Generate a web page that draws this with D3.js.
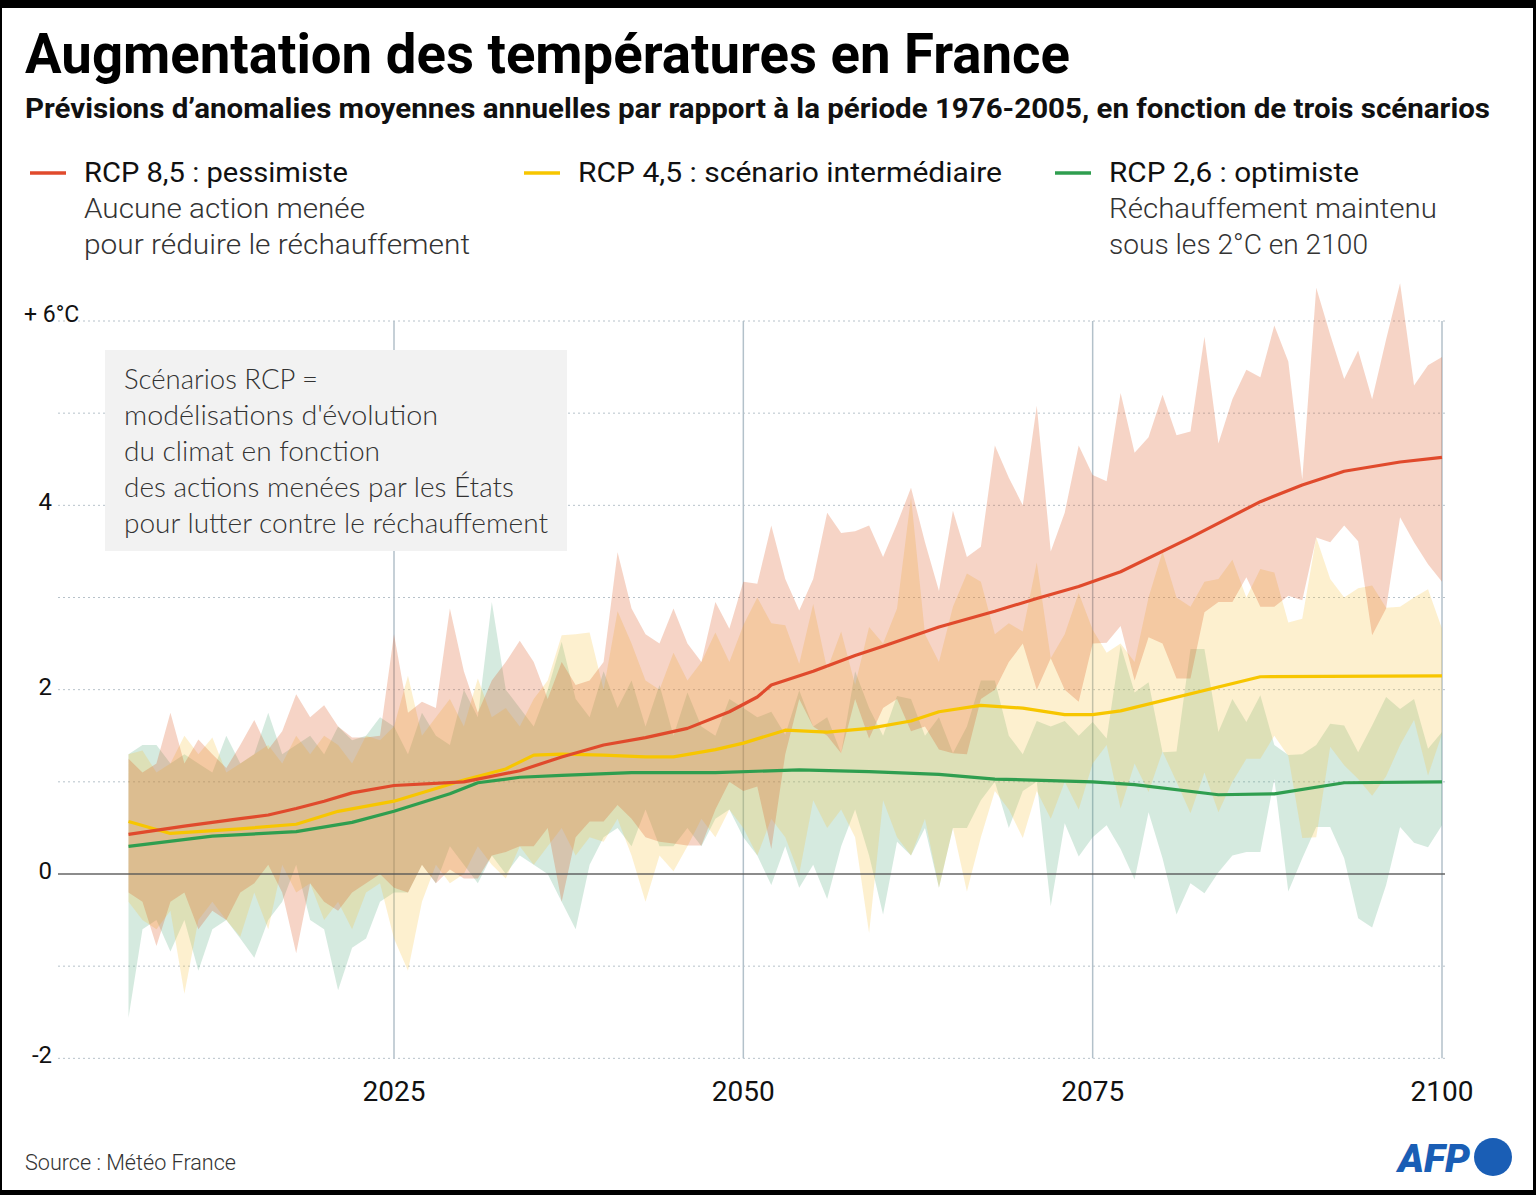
<!DOCTYPE html>
<html><head><meta charset="utf-8">
<script src="https://cdn.jsdelivr.net/npm/d3@7"></script>
<style>body{margin:0;background:#fff}svg{display:block}</style>
</head><body>
<svg id="c" width="1536" height="1195"></svg>
<script>
// ---------- DATA ----------
const years = d3.range(2006, 2101);

const rcp85Upper = [1.25,1.1,1.2,1.75,1.2,1.46,1.3,1.15,1.4,1.67,
 1.35,1.55,1.95,1.7,1.83,1.6,1.48,1.48,1.5,2.6,
 1.75,1.87,1.8,2.88,2.2,1.75,2.1,2.3,2.53,2.3,
 1.9,2.3,2.05,2.1,2.3,3.49,2.88,2.6,2.5,2.88,
 2.5,2.3,2.95,2.66,3.17,3.15,3.78,3.2,2.86,3.2,
 3.92,3.7,3.72,3.78,3.44,3.8,4.19,3.6,3.07,3.94,
 3.44,3.55,4.65,4.3,4.0,5.08,3.5,3.92,4.65,4.33,
 4.26,5.22,4.57,4.74,5.2,4.76,4.8,5.83,4.67,5.15,
 5.47,5.39,5.95,5.56,4.28,6.36,5.85,5.37,5.68,5.15,
 5.8,6.41,5.3,5.52,5.61];
const rcp85Lower = [-0.2,-0.3,-0.78,-0.3,-0.2,-0.6,-0.4,-0.5,-0.2,-0.1,
 0.1,-0.2,-0.86,-0.1,-0.3,-0.4,-0.2,-0.1,0.0,-0.15,
 -0.2,0.1,-0.1,0.05,-0.05,-0.05,0.2,0.24,0.3,0.3,
 0.5,-0.3,0.4,0.57,0.57,0.75,0.6,0.4,0.35,0.33,
 0.31,0.31,0.7,1.0,0.9,0.95,0.27,1.3,1.9,1.6,
 1.5,1.31,1.9,1.47,1.8,1.9,1.55,1.6,1.35,1.31,
 1.3,1.9,2.0,2.3,2.5,2.0,2.34,2.0,1.87,2.5,
 2.51,2.69,2.1,2.57,2.5,2.12,2.12,2.84,2.95,2.95,
 3.22,2.9,2.9,3.02,2.97,3.65,3.6,3.78,3.61,2.59,
 2.88,3.87,3.6,3.36,3.17];

const rcp45Upper = [1.3,1.34,1.1,1.2,1.5,1.3,1.48,1.1,1.2,1.3,
 1.4,1.2,1.5,1.3,1.5,1.4,1.2,1.5,1.45,1.6,
 2.15,1.5,1.7,1.9,1.6,2.12,1.7,1.8,1.6,1.9,
 2.1,2.59,2.6,2.62,2.0,2.85,2.5,2.1,2.0,2.4,
 2.1,2.3,2.62,2.3,2.7,3.0,2.72,2.7,2.28,2.93,
 2.22,2.63,2.05,2.68,2.5,2.88,4.09,2.6,2.3,2.9,
 3.26,3.17,2.6,2.72,2.63,3.38,2.34,2.6,3.05,2.65,
 2.4,2.5,2.3,3.0,3.5,3.0,2.9,3.17,3.2,3.41,
 3.0,3.31,3.27,2.73,2.77,3.65,3.2,3.0,3.1,3.13,
 2.89,2.9,3.0,3.09,2.66];
const rcp45Lower = [-0.3,-0.5,-0.6,-0.4,-1.3,-0.5,-0.3,-0.5,-0.68,-0.2,
 -0.6,0.1,-0.2,-0.1,-0.5,-0.3,-0.6,-0.2,-0.1,-0.7,
 -1.05,-0.3,0.1,-0.1,0.0,0.3,0.1,-0.05,0.3,0.1,
 0.3,0.5,0.2,0.4,0.35,0.6,0.2,-0.3,0.2,0.03,
 0.3,0.6,0.4,0.7,0.5,0.2,0.6,0.4,0.0,0.8,
 0.5,0.7,0.4,-0.64,0.8,0.4,0.2,0.6,-0.15,0.5,
 -0.19,0.4,0.9,0.7,0.39,0.9,0.6,1.0,0.7,1.2,
 1.4,0.71,1.2,0.89,1.33,1.0,0.66,1.1,0.67,1.0,
 1.25,1.25,1.5,1.28,0.39,0.4,1.38,1.18,1.03,0.85,
 1.06,1.4,1.67,1.07,1.52];

const rcp26Upper = [1.3,1.4,1.4,1.2,1.3,1.2,1.1,1.5,1.2,1.3,
 1.75,1.3,1.4,1.5,1.3,1.6,1.45,1.5,1.7,1.6,
 1.3,1.75,1.5,1.4,2.0,1.7,2.95,2.0,1.8,1.6,
 2.0,2.52,1.9,1.7,2.2,1.8,2.1,1.6,2.05,1.5,
 1.97,1.6,1.5,1.9,1.8,1.7,1.76,1.51,1.99,1.6,
 1.7,1.31,2.2,1.8,1.5,1.93,1.9,1.5,1.7,1.31,
 1.6,2.1,2.1,1.5,1.3,1.66,1.6,1.66,1.5,1.65,
 1.47,2.48,1.97,2.08,1.32,1.33,2.44,2.44,1.54,1.9,
 1.65,1.94,1.4,1.29,1.3,1.4,1.63,1.61,1.32,1.61,
 1.92,1.79,1.9,1.36,1.54];
const rcp26Lower = [-1.56,-0.6,-0.5,-0.84,-0.5,-1.05,-0.6,-0.5,-0.7,-0.91,
 -0.5,-0.3,0.1,-0.5,-0.6,-1.26,-0.8,-0.7,-0.3,-0.2,
 -0.2,0.1,-0.1,0.3,0.1,-0.1,0.2,0.0,0.2,0.1,
 0.0,-0.3,-0.6,0.1,0.4,0.5,0.3,0.7,0.3,0.3,
 0.5,0.3,0.6,0.7,0.4,0.2,-0.12,0.3,-0.15,0.1,
 -0.27,0.3,0.7,0.2,-0.44,0.35,0.2,0.5,-0.15,0.5,
 0.5,0.8,1.0,0.5,0.9,1.0,-0.35,0.55,0.19,0.4,
 0.53,0.27,-0.06,0.67,0.17,-0.44,-0.1,-0.21,0.02,0.2,
 0.24,0.24,1.03,-0.19,0.17,0.51,0.51,0.17,-0.48,-0.58,
 -0.12,0.51,0.34,0.29,0.53];

const rcp85MedianYears = [2006,2010,2014,2016,2018,2020,2022,2025,2030,2034,2037,2040,2043,2046,2049,2051,2052,2055,2058,2060,2064,2068,2071,2074,2077,2082,2087,2090,2093,2097,2100];
const rcp85Median      = [0.43,0.52,0.6,0.64,0.71,0.79,0.88,0.96,1.0,1.12,1.27,1.4,1.48,1.58,1.76,1.92,2.05,2.2,2.37,2.47,2.68,2.85,2.99,3.12,3.28,3.65,4.04,4.22,4.37,4.47,4.52];
const rcp45MedianYears = [2006,2009,2014,2018,2021,2025,2030,2033,2035,2037,2040,2043,2045,2048,2050,2053,2056,2059,2062,2064,2067,2070,2073,2075,2077,2087,2100];
const rcp45Median      = [0.57,0.44,0.49,0.54,0.68,0.79,1.02,1.14,1.29,1.3,1.29,1.27,1.27,1.35,1.42,1.56,1.54,1.58,1.66,1.76,1.83,1.8,1.73,1.73,1.77,2.14,2.15];
const rcp26MedianYears = [2006,2012,2018,2022,2025,2029,2031,2034,2037,2042,2048,2054,2059,2064,2068,2075,2078,2084,2088,2093,2100];
const rcp26Median      = [0.3,0.41,0.46,0.56,0.68,0.87,0.99,1.05,1.07,1.1,1.1,1.13,1.11,1.08,1.03,1.0,0.97,0.86,0.87,0.99,1.0];

const xTicks = [2025, 2050, 2075, 2100];
const yTickValues = [-2, 0, 2, 4, 6];
const yTickLabels = ["-2", "0", "2", "4", "+ 6°C"];
const gridValues = [-2, -1, 0, 1, 2, 3, 4, 5, 6];

const legendItems = [
  {title: "RCP 8,5 : pessimiste", lines: ["Aucune action menée", "pour réduire le réchauffement"]},
  {title: "RCP 4,5 : scénario intermédiaire", lines: []},
  {title: "RCP 2,6 : optimiste", lines: ["Réchauffement maintenu", "sous les 2°C en 2100"]}
];
const noteLines = ["Scénarios RCP =", "modélisations d'évolution", "du climat en fonction", "des actions menées par les États", "pour lutter contre le réchauffement"];

// ---------- STYLE ----------
const lineColors = ["#e04a2c", "#f7c600", "#2f9e4f"];
const bandColors = ["rgb(219,83,27)", "rgb(247,195,63)", "rgb(87,171,127)"];
const bandOpacity = 0.25;
const FONT = "Roboto, 'Noto Sans', Arial, sans-serif";

const svg = d3.select("#c");
svg.append("rect").attr("width", 1536).attr("height", 1195).attr("fill", "#000");
svg.append("rect").attr("x", 2).attr("y", 8).attr("width", 1531).attr("height", 1182).attr("fill", "#fff");

const x = d3.scaleLinear().domain([2025, 2100]).range([394, 1442]);
const y = d3.scaleLinear().domain([0, 6]).range([874, 321]);

function txt(g, s, opts) {
  const t = g.append("text").text(s)
    .attr("x", opts.x).attr("y", opts.y)
    .attr("font-family", opts.family || FONT)
    .attr("font-size", opts.size)
    .attr("font-weight", opts.weight || 400)
    .attr("fill", opts.fill || "#111");
  if (opts.anchor) t.attr("text-anchor", opts.anchor);
  if (opts.len) t.attr("textLength", opts.len).attr("lengthAdjust", "spacingAndGlyphs");
  return t;
}

// Title & subtitle
txt(svg, "Augmentation des températures en France", {x: 25, y: 73, size: 56, weight: 700, len: 1045, fill: "#000"});
txt(svg, "Prévisions d’anomalies moyennes annuelles par rapport à la période 1976-2005, en fonction de trois scénarios", {x: 25, y: 118, size: 27, weight: 700, len: 1465, fill: "#111"});

// Legend
const legX = [30, 524, 1055];
const legTitleLen = [264, 424, 250];
const legLineLens = [[281, 386], [], [328, 259]];
legendItems.forEach((it, i) => {
  svg.append("line").attr("x1", legX[i]).attr("x2", legX[i] + 36).attr("y1", 173).attr("y2", 173)
    .attr("stroke", lineColors[i]).attr("stroke-width", 3.5);
  txt(svg, it.title, {x: legX[i] + 54, y: 182, size: 28, len: legTitleLen[i], fill: "#111"});
  it.lines.forEach((l, j) => {
    txt(svg, l, {x: legX[i] + 54, y: 218 + j * 36, size: 28, weight: 300, len: legLineLens[i][j], fill: "#333"});
  });
});

// Grid
const grid = svg.append("g");
gridValues.filter(v => v !== 0).forEach(v => {
  grid.append("line").attr("x1", 58).attr("x2", 1445).attr("y1", y(v)).attr("y2", y(v))
    .attr("stroke", "#b7c2ca").attr("stroke-width", 1).attr("stroke-dasharray", "2,3");
});
xTicks.forEach(t => {
  grid.append("line").attr("x1", x(t)).attr("x2", x(t)).attr("y1", y(6)).attr("y2", y(-2))
    .attr("stroke", "#b3c1ca").attr("stroke-width", 1.5);
});

// Note box (above grid)
svg.append("rect").attr("x", 105).attr("y", 350).attr("width", 462).attr("height", 201).attr("fill", "#f2f2f2");
const noteLens = [194, 314, 256, 390, 424];
noteLines.forEach((l, i) => {
  txt(svg, l, {x: 124, y: 389 + i * 36, size: 27, weight: 300, len: noteLens[i], fill: "#333", family: "Lato, Roboto, sans-serif"});
});

// Bands (green at bottom, red on top)
const bandData = [
  {up: rcp85Upper, lo: rcp85Lower},
  {up: rcp45Upper, lo: rcp45Lower},
  {up: rcp26Upper, lo: rcp26Lower}
];
const area = d3.area().x(d => x(d.year)).y0(d => y(d.lo)).y1(d => y(d.up));
const bands = svg.append("g");
[2, 1, 0].forEach(i => {
  const pts = years.map((yr, k) => ({year: yr, up: bandData[i].up[k], lo: bandData[i].lo[k]}));
  bands.append("path").datum(pts).attr("d", area)
    .attr("fill", bandColors[i]).attr("fill-opacity", bandOpacity);
});

// Zero line
svg.append("line").attr("x1", 58).attr("x2", 1445).attr("y1", y(0)).attr("y2", y(0))
  .attr("stroke", "#555").attr("stroke-width", 1.5).attr("stroke-opacity", 0.9);

// Median lines
const medians = [
  {yrs: rcp85MedianYears, vals: rcp85Median},
  {yrs: rcp45MedianYears, vals: rcp45Median},
  {yrs: rcp26MedianYears, vals: rcp26Median}
];
const line = d3.line().x(d => x(d[0])).y(d => y(d[1]));
[2, 1, 0].forEach(i => {
  const pts = medians[i].yrs.map((yr, k) => [yr, medians[i].vals[k]]);
  svg.append("path").datum(pts).attr("d", line).attr("fill", "none")
    .attr("stroke", lineColors[i]).attr("stroke-width", 3.2).attr("stroke-linejoin", "round");
});

// Y labels
yTickValues.forEach((v, i) => {
  if (v === 6) txt(svg, yTickLabels[i], {x: 24, y: y(v) + 1, size: 23, fill: "#111"});
  else txt(svg, yTickLabels[i], {x: 52, y: y(v) + 5, size: 24, anchor: "end", fill: "#111"});
});

// X labels
xTicks.forEach(t => {
  txt(svg, String(t), {x: x(t), y: 1101, size: 28, anchor: "middle", fill: "#111"});
});

// Footer
txt(svg, "Source : Météo France", {x: 25, y: 1170, size: 22, weight: 300, len: 211, fill: "#333"});
svg.append("text").text("AFP").attr("x", 1398).attr("y", 1172)
  .attr("font-family", "Roboto, Arial, sans-serif").attr("font-size", 38).attr("font-weight", 900)
  .attr("font-style", "italic").attr("fill", "#1a5eb5")
  .attr("textLength", 72).attr("lengthAdjust", "spacingAndGlyphs");
svg.append("ellipse").attr("cx", 1493).attr("cy", 1157).attr("rx", 19).attr("ry", 19).attr("fill", "#1a5eb5");
</script>
</body></html>
